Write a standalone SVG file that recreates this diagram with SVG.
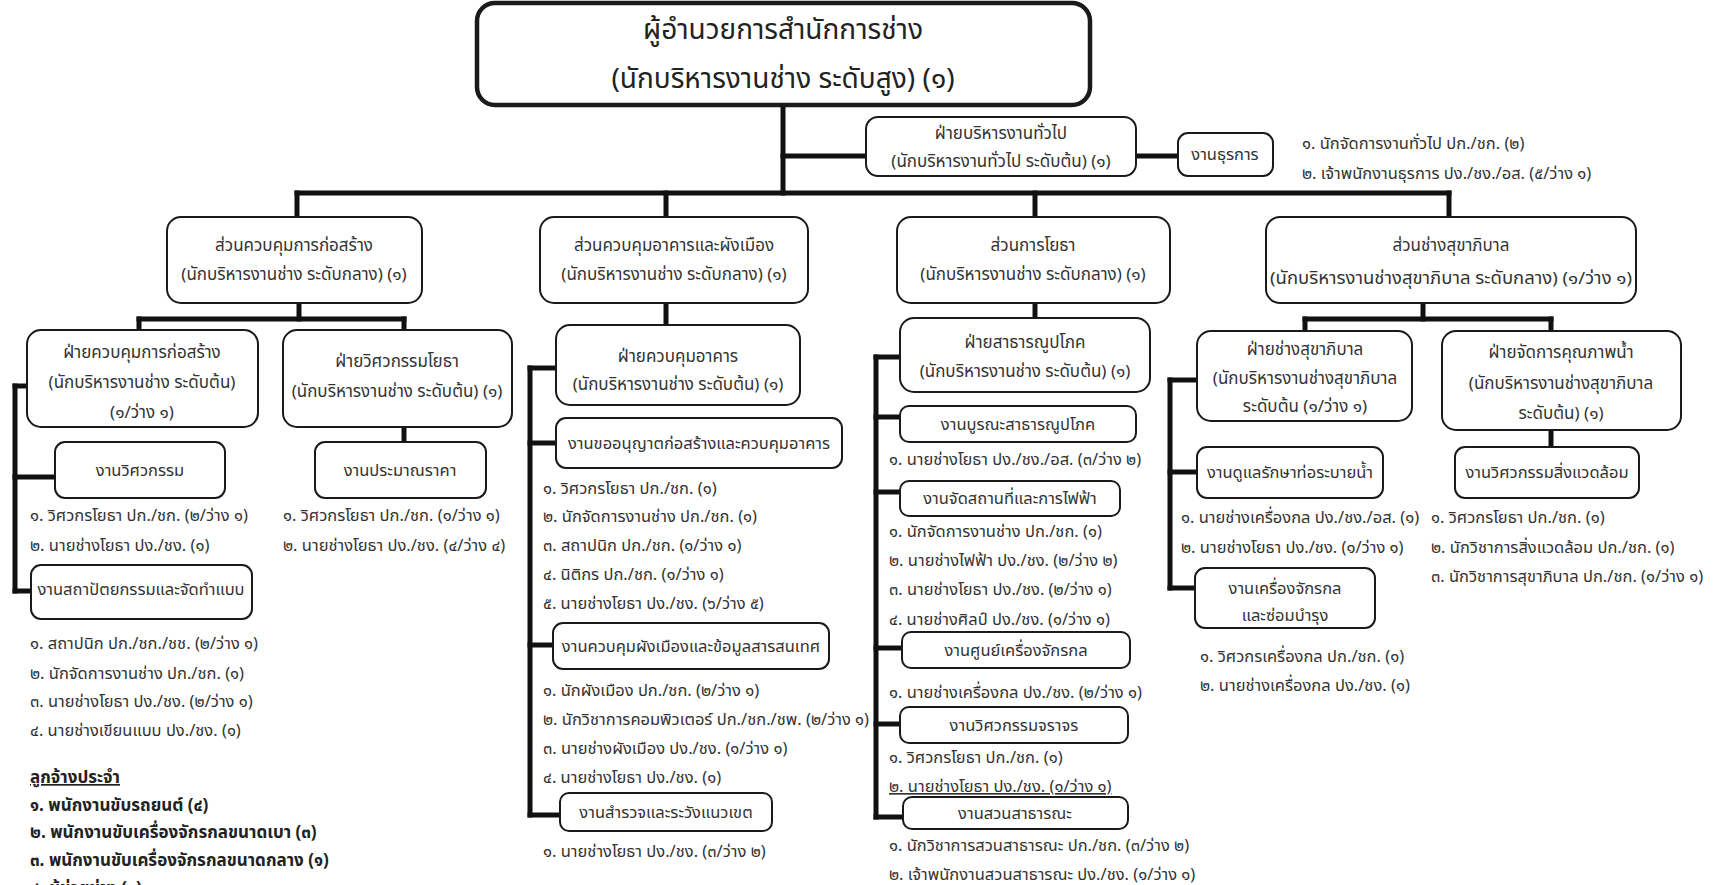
<svg xmlns="http://www.w3.org/2000/svg" width="1726" height="885" viewBox="0 0 1726 885">
<style>
.box{fill:#fff;stroke:#1a1a1a;stroke-width:2}
.top{fill:#fff;stroke:#1a1a1a;stroke-width:4.5}
.conn line{stroke:#111;stroke-width:5;stroke-linecap:square}
text{font-family:"Noto Sans Thai","Noto Sans",sans-serif;fill:#333}
.t{font-size:17px;text-anchor:middle}
.s{font-size:16.5px;text-anchor:middle}
.h{font-size:28px;text-anchor:middle;fill:#222}
.l{font-size:16.5px}
.b{font-size:17px;font-weight:bold;fill:#222}
</style>
<rect width="1726" height="885" fill="#fff"/>
<g id="connectors" class="conn">
<line x1="783" y1="105" x2="783" y2="193"/>
<line x1="297" y1="193" x2="1449" y2="193"/>
<line x1="297" y1="193" x2="297" y2="217"/>
<line x1="666" y1="193" x2="666" y2="217"/>
<line x1="1035" y1="193" x2="1035" y2="217"/>
<line x1="1449" y1="193" x2="1449" y2="217"/>
<line x1="783" y1="156" x2="866" y2="156"/>
<line x1="1136" y1="156" x2="1178" y2="156"/>
<line x1="299" y1="303" x2="299" y2="319"/>
<line x1="139" y1="319" x2="404" y2="319"/>
<line x1="139" y1="319" x2="139" y2="330"/>
<line x1="404" y1="319" x2="404" y2="330"/>
<line x1="404" y1="427" x2="404" y2="442"/>
<line x1="15" y1="386" x2="15" y2="591"/>
<line x1="15" y1="386" x2="27" y2="386"/>
<line x1="15" y1="477" x2="55" y2="477"/>
<line x1="15" y1="591" x2="31" y2="591"/>
<line x1="666" y1="303" x2="666" y2="325"/>
<line x1="530" y1="368" x2="530" y2="815"/>
<line x1="530" y1="368" x2="556" y2="368"/>
<line x1="530" y1="443" x2="556" y2="443"/>
<line x1="530" y1="645" x2="553" y2="645"/>
<line x1="530" y1="815" x2="560" y2="815"/>
<line x1="1035" y1="303" x2="1035" y2="318"/>
<line x1="876" y1="357" x2="876" y2="817"/>
<line x1="876" y1="357" x2="900" y2="357"/>
<line x1="876" y1="417" x2="900" y2="417"/>
<line x1="876" y1="492" x2="900" y2="492"/>
<line x1="876" y1="648" x2="902" y2="648"/>
<line x1="876" y1="724" x2="900" y2="724"/>
<line x1="876" y1="817" x2="903" y2="817"/>
<line x1="1423" y1="303" x2="1423" y2="319"/>
<line x1="1305" y1="319" x2="1551" y2="319"/>
<line x1="1305" y1="319" x2="1305" y2="331"/>
<line x1="1551" y1="319" x2="1551" y2="331"/>
<line x1="1170" y1="380" x2="1170" y2="588"/>
<line x1="1170" y1="380" x2="1197" y2="380"/>
<line x1="1170" y1="472" x2="1197" y2="472"/>
<line x1="1170" y1="588" x2="1195" y2="588"/>
<line x1="1551" y1="430" x2="1551" y2="447"/>
</g>

<g id="director">
<rect class="top" x="477" y="3" width="613" height="102" rx="18"/>
<text class="h" x="783" y="39">ผู้อำนวยการสำนักการช่าง</text>
<text class="h" x="783" y="88">(นักบริหารงานช่าง ระดับสูง) (๑)</text>
</g>

<g id="general-admin">
<rect class="box" x="866" y="117" width="270" height="59" rx="12"/>
<text class="t" x="1001" y="139">ฝ่ายบริหารงานทั่วไป</text>
<text class="t" x="1001" y="167">(นักบริหารงานทั่วไป ระดับต้น) (๑)</text>
</g>
<g id="clerical">
<rect class="box" x="1178" y="133" width="95" height="43" rx="10"/>
<text class="s" x="1225" y="160">งานธุรการ</text>
<text class="l" x="1302" y="149">๑. นักจัดการงานทั่วไป ปก./ชก. (๒)</text>
<text class="l" x="1302" y="179">๒. เจ้าพนักงานธุรการ ปง./ชง./อส. (๕/ว่าง ๑)</text>
</g>

<g id="construction-div">
<rect class="box" x="167" y="217" width="255" height="86" rx="14"/>
<text class="t" x="294" y="251">ส่วนควบคุมการก่อสร้าง</text>
<text class="t" x="294" y="280">(นักบริหารงานช่าง ระดับกลาง) (๑)</text>
</g>
<g id="building-div">
<rect class="box" x="540" y="217" width="268" height="86" rx="14"/>
<text class="t" x="674" y="251">ส่วนควบคุมอาคารและผังเมือง</text>
<text class="t" x="674" y="280">(นักบริหารงานช่าง ระดับกลาง) (๑)</text>
</g>
<g id="public-works-div">
<rect class="box" x="897" y="217" width="273" height="86" rx="14"/>
<text class="t" x="1033" y="251">ส่วนการโยธา</text>
<text class="t" x="1033" y="280">(นักบริหารงานช่าง ระดับกลาง) (๑)</text>
</g>
<g id="sanitation-div">
<rect class="box" x="1266" y="217" width="370" height="86" rx="14"/>
<text class="t" x="1451" y="251">ส่วนช่างสุขาภิบาล</text>
<text class="t" x="1451" y="284" textLength="362" lengthAdjust="spacingAndGlyphs">(นักบริหารงานช่างสุขาภิบาล ระดับกลาง) (๑/ว่าง ๑)</text>
</g>

<g id="construction-control">
<rect class="box" x="27" y="330" width="231" height="97" rx="14"/>
<text class="t" x="142" y="358">ฝ่ายควบคุมการก่อสร้าง</text>
<text class="t" x="142" y="388">(นักบริหารงานช่าง ระดับต้น)</text>
<text class="t" x="142" y="418">(๑/ว่าง ๑)</text>
</g>
<g id="civil-eng">
<rect class="box" x="283" y="330" width="229" height="97" rx="14"/>
<text class="t" x="397" y="367">ฝ่ายวิศวกรรมโยธา</text>
<text class="t" x="397" y="397">(นักบริหารงานช่าง ระดับต้น) (๑)</text>
</g>
<g id="engineering">
<rect class="box" x="55" y="442" width="170" height="56" rx="10"/>
<text class="s" x="140" y="476">งานวิศวกรรม</text>
<text class="l" x="30" y="521">๑. วิศวกรโยธา ปก./ชก. (๒/ว่าง ๑)</text>
<text class="l" x="30" y="551">๒. นายช่างโยธา ปง./ชง. (๑)</text>
</g>
<g id="estimate">
<rect class="box" x="315" y="442" width="171" height="56" rx="10"/>
<text class="s" x="400" y="476">งานประมาณราคา</text>
<text class="l" x="283" y="521">๑. วิศวกรโยธา ปก./ชก. (๑/ว่าง ๑)</text>
<text class="l" x="283" y="551">๒. นายช่างโยธา ปง./ชง. (๔/ว่าง ๔)</text>
</g>
<g id="architecture">
<rect class="box" x="31" y="565" width="221" height="54" rx="10"/>
<text class="s" x="141" y="595">งานสถาปัตยกรรมและจัดทำแบบ</text>
<text class="l" x="30" y="649">๑. สถาปนิก ปก./ชก./ชช. (๒/ว่าง ๑)</text>
<text class="l" x="30" y="679">๒. นักจัดการงานช่าง ปก./ชก. (๑)</text>
<text class="l" x="30" y="707">๓. นายช่างโยธา ปง./ชง. (๒/ว่าง ๑)</text>
<text class="l" x="30" y="736">๔. นายช่างเขียนแบบ ปง./ชง. (๑)</text>
</g>
<g id="permanent-staff">
<text class="b" x="30" y="783" text-decoration="underline">ลูกจ้างประจำ</text>
<text class="b" x="30" y="811">๑. พนักงานขับรถยนต์ (๔)</text>
<text class="b" x="30" y="838">๒. พนักงานขับเครื่องจักรกลขนาดเบา (๓)</text>
<text class="b" x="30" y="866">๓. พนักงานขับเครื่องจักรกลขนาดกลาง (๑)</text>
<text class="b" x="30" y="894">๔. ผู้ช่วยช่าง (๑)</text>
</g>

<g id="building-control">
<rect class="box" x="556" y="325" width="244" height="80" rx="14"/>
<text class="t" x="678" y="362">ฝ่ายควบคุมอาคาร</text>
<text class="t" x="678" y="390">(นักบริหารงานช่าง ระดับต้น) (๑)</text>
</g>
<g id="permit">
<rect class="box" x="556" y="418" width="286" height="50" rx="10"/>
<text class="s" x="699" y="449">งานขออนุญาตก่อสร้างและควบคุมอาคาร</text>
<text class="l" x="543" y="494">๑. วิศวกรโยธา ปก./ชก. (๑)</text>
<text class="l" x="543" y="522">๒. นักจัดการงานช่าง ปก./ชก. (๑)</text>
<text class="l" x="543" y="551">๓. สถาปนิก ปก./ชก. (๑/ว่าง ๑)</text>
<text class="l" x="543" y="580">๔. นิติกร ปก./ชก. (๑/ว่าง ๑)</text>
<text class="l" x="543" y="609">๕. นายช่างโยธา ปง./ชง. (๖/ว่าง ๕)</text>
</g>
<g id="city-planning">
<rect class="box" x="553" y="623" width="276" height="46" rx="10"/>
<text class="s" x="691" y="652">งานควบคุมผังเมืองและข้อมูลสารสนเทศ</text>
<text class="l" x="543" y="696">๑. นักผังเมือง ปก./ชก. (๒/ว่าง ๑)</text>
<text class="l" x="543" y="725">๒. นักวิชาการคอมพิวเตอร์ ปก./ชก./ชพ. (๒/ว่าง ๑)</text>
<text class="l" x="543" y="754">๓. นายช่างผังเมือง ปง./ชง. (๑/ว่าง ๑)</text>
<text class="l" x="543" y="783">๔. นายช่างโยธา ปง./ชง. (๑)</text>
</g>
<g id="survey">
<rect class="box" x="560" y="793" width="212" height="38" rx="9"/>
<text class="s" x="666" y="818">งานสำรวจและระวังแนวเขต</text>
<text class="l" x="543" y="857">๑. นายช่างโยธา ปง./ชง. (๓/ว่าง ๒)</text>
</g>

<g id="utilities">
<rect class="box" x="900" y="318" width="250" height="74" rx="14"/>
<text class="t" x="1025" y="348">ฝ่ายสาธารณูปโภค</text>
<text class="t" x="1025" y="377">(นักบริหารงานช่าง ระดับต้น) (๑)</text>
</g>
<g id="utility-repair">
<rect class="box" x="900" y="406" width="236" height="36" rx="9"/>
<text class="s" x="1018" y="430">งานบูรณะสาธารณูปโภค</text>
<text class="l" x="889" y="465">๑. นายช่างโยธา ปง./ชง./อส. (๓/ว่าง ๒)</text>
</g>
<g id="venue-electric">
<rect class="box" x="900" y="481" width="220" height="35" rx="9"/>
<text class="s" x="1010" y="504">งานจัดสถานที่และการไฟฟ้า</text>
<text class="l" x="889" y="537">๑. นักจัดการงานช่าง ปก./ชก. (๑)</text>
<text class="l" x="889" y="566">๒. นายช่างไฟฟ้า ปง./ชง. (๒/ว่าง ๒)</text>
<text class="l" x="889" y="595">๓. นายช่างโยธา ปง./ชง. (๒/ว่าง ๑)</text>
<text class="l" x="889" y="625">๔. นายช่างศิลป์ ปง./ชง. (๑/ว่าง ๑)</text>
</g>
<g id="machinery-center">
<rect class="box" x="902" y="632" width="228" height="36" rx="9"/>
<text class="s" x="1016" y="656">งานศูนย์เครื่องจักรกล</text>
<text class="l" x="889" y="698">๑. นายช่างเครื่องกล ปง./ชง. (๒/ว่าง ๑)</text>
</g>
<g id="traffic">
<rect class="box" x="900" y="707" width="228" height="36" rx="9"/>
<text class="s" x="1014" y="731">งานวิศวกรรมจราจร</text>
<text class="l" x="889" y="763">๑. วิศวกรโยธา ปก./ชก. (๑)</text>
<text class="l" x="889" y="792" text-decoration="underline">๒. นายช่างโยธา ปง./ชง. (๑/ว่าง ๑)</text>
</g>
<g id="parks">
<rect class="box" x="903" y="797" width="225" height="32" rx="9"/>
<text class="s" x="1015" y="819">งานสวนสาธารณะ</text>
<text class="l" x="889" y="851">๑. นักวิชาการสวนสาธารณะ ปก./ชก.  (๓/ว่าง ๒)</text>
<text class="l" x="889" y="880">๒. เจ้าพนักงานสวนสาธารณะ ปง./ชง. (๑/ว่าง ๑)</text>
</g>

<g id="sanitation-eng">
<rect class="box" x="1197" y="331" width="215" height="90" rx="14"/>
<text class="t" x="1305" y="355">ฝ่ายช่างสุขาภิบาล</text>
<text class="t" x="1305" y="384">(นักบริหารงานช่างสุขาภิบาล</text>
<text class="t" x="1305" y="412">ระดับต้น (๑/ว่าง ๑)</text>
</g>
<g id="water-quality">
<rect class="box" x="1442" y="331" width="239" height="99" rx="14"/>
<text class="t" x="1561" y="358">ฝ่ายจัดการคุณภาพน้ำ</text>
<text class="t" x="1561" y="389">(นักบริหารงานช่างสุขาภิบาล</text>
<text class="t" x="1561" y="419">ระดับต้น) (๑)</text>
</g>
<g id="drainage">
<rect class="box" x="1197" y="447" width="186" height="51" rx="10"/>
<text class="s" x="1290" y="478">งานดูแลรักษาท่อระบายน้ำ</text>
<text class="l" x="1181" y="523">๑. นายช่างเครื่องกล ปง./ชง./อส. (๑)</text>
<text class="l" x="1181" y="553">๒. นายช่างโยธา ปง./ชง. (๑/ว่าง ๑)</text>
</g>
<g id="machinery-maint">
<rect class="box" x="1195" y="568" width="180" height="60" rx="10"/>
<text class="s" x="1285" y="594">งานเครื่องจักรกล</text>
<text class="s" x="1285" y="621">และซ่อมบำรุง</text>
<text class="l" x="1200" y="662">๑. วิศวกรเครื่องกล ปก./ชก. (๑)</text>
<text class="l" x="1200" y="691">๒. นายช่างเครื่องกล ปง./ชง. (๑)</text>
</g>
<g id="environment">
<rect class="box" x="1455" y="447" width="184" height="51" rx="10"/>
<text class="s" x="1547" y="478">งานวิศวกรรมสิ่งแวดล้อม</text>
<text class="l" x="1431" y="523">๑. วิศวกรโยธา ปก./ชก. (๑)</text>
<text class="l" x="1431" y="553">๒. นักวิชาการสิ่งแวดล้อม ปก./ชก. (๑)</text>
<text class="l" x="1431" y="582">๓. นักวิชาการสุขาภิบาล ปก./ชก. (๑/ว่าง ๑)</text>
</g>
</svg>
